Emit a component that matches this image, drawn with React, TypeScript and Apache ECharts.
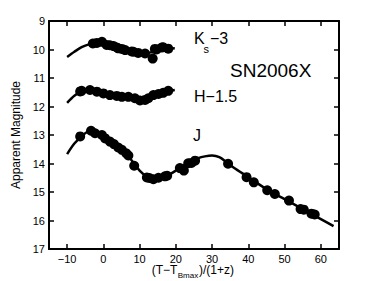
import React, { useEffect, useRef } from "react";
import * as echarts from "echarts";

const xTicks = [-10, 0, 10, 20, 30, 40, 50, 60];

const ksPoints: number[][] = [
  [-2.9, 9.79], [-1.8, 9.77], [-0.4, 9.73], [0.9, 9.84], [1.8, 9.85], [2.8, 9.88],
  [3.7, 9.93], [4.1, 9.96], [5.1, 9.98], [6.0, 10.02], [7.8, 10.07], [8.3, 10.08],
  [9.6, 10.12], [11.5, 10.14], [13.6, 10.32], [14.2, 9.98], [14.7, 10.0],
  [16.1, 9.93], [16.5, 9.92], [17.9, 9.97],
];
const ksCurve: number[][] = [
  [-10, 10.26], [-8, 10.08], [-6, 9.92], [-4, 9.82], [-2, 9.78], [0, 9.8], [2, 9.86],
  [4, 9.94], [6, 10.0], [8, 10.06], [10, 10.1], [12, 10.12], [14, 10.08], [16, 10.01],
  [18, 9.97], [19.7, 9.96],
];

const hPoints: number[][] = [
  [-6.4, 11.47], [-6.0, 11.45], [-3.7, 11.42], [-1.8, 11.48], [0, 11.54], [1.8, 11.6],
  [3.7, 11.63], [5.1, 11.66], [6.9, 11.66], [8.7, 11.71], [10.1, 11.79], [11.5, 11.77],
  [12.4, 11.71], [13.8, 11.6], [15.2, 11.56], [16.5, 11.52], [17.9, 11.45],
];
const hCurve: number[][] = [
  [-10, 11.87], [-8, 11.62], [-6, 11.47], [-4, 11.43], [-2, 11.47], [0, 11.53], [2, 11.59],
  [4, 11.63], [6, 11.66], [8, 11.7], [10, 11.74], [12, 11.72], [14, 11.62], [16, 11.53],
  [18, 11.46], [19.7, 11.42],
];

const jPoints: number[][] = [
  [-6.4, 13.05], [-3.4, 12.85], [-2.3, 12.94], [-0.4, 13.0], [0.5, 13.12], [1.8, 13.23],
  [2.9, 13.32], [4.1, 13.44], [5.1, 13.52], [6.3, 13.64], [6.9, 13.72], [8.5, 14.08],
  [12.0, 14.49], [12.7, 14.51], [13.8, 14.55], [15.2, 14.5], [17.0, 14.45], [17.6, 14.43],
  [21.1, 14.16], [22.2, 14.25], [23.4, 13.99], [24.3, 13.98], [25.3, 13.9], [34.4, 14.01],
  [39.5, 14.48], [41.5, 14.66], [45.2, 14.94], [47.3, 15.07], [51.2, 15.3], [54.4, 15.6],
  [55.3, 15.62], [57.4, 15.76], [58.3, 15.79],
];
const jCurve: number[][] = [
  [-10, 13.67], [-8, 13.3], [-6, 13.05], [-4, 12.88], [-2, 12.9], [0, 13.05], [2, 13.24],
  [4, 13.44], [6, 13.63], [8, 13.92], [10, 14.25], [12, 14.46], [14, 14.53], [16, 14.48],
  [18, 14.4], [20, 14.25], [22, 14.08], [24, 13.93], [26, 13.82], [28, 13.75], [30, 13.72],
  [32, 13.78], [34, 13.96], [36, 14.15], [40, 14.48], [45, 14.9], [50, 15.25], [55, 15.6],
  [60, 15.95], [63.5, 16.2],
];

const FONT = "Liberation Sans, Arial, Helvetica, sans-serif";

export default function App() {
  const ref = useRef<HTMLDivElement>(null);
  useEffect(() => {
    document.body.style.margin = "0";
    if (!ref.current) return;
    const chart = echarts.init(ref.current, null, { renderer: "svg" });
    const axisLine = { show: true, onZero: false, lineStyle: { color: "#000", width: 2 } };
    const tick = { show: true, inside: true, length: 5, lineStyle: { color: "#000", width: 1.5 } };
    const lineSeries = (data: number[][]) => ({
      type: "line", data, showSymbol: false, smooth: 0.3, symbol: "none",
      lineStyle: { color: "#000", width: 2.5 }, silent: true,
    });
    const scatter = (data: number[][]) => ({
      type: "scatter", data, symbolSize: 10, itemStyle: { color: "#000", opacity: 1 }, silent: true,
    });
    const txt = (text: string, x: number, y: number, size: number, align = "left") => ({
      type: "text", x, y,
      style: { text, fontSize: size, fontFamily: FONT, fill: "#000", textAlign: align, textVerticalAlign: "middle" },
    });
    chart.setOption({
      animation: false,
      backgroundColor: "#fff",
      textStyle: { fontFamily: FONT },
      grid: { left: 49, top: 21, right: 35, bottom: 32 },
      xAxis: [
        {
          type: "value", position: "bottom", min: -15, max: 65,
          axisLine, axisTick: { ...tick, customValues: xTicks },
          axisLabel: {
            customValues: xTicks, color: "#000", fontSize: 11, margin: 4, fontFamily: FONT,
            formatter: (v: number) => String(v).replace("-", "\u2212"),
          },
          splitLine: { show: false },
        },
        {
          type: "value", position: "top", min: -15, max: 65,
          axisLine, axisTick: { ...tick, customValues: xTicks },
          axisLabel: { show: false }, splitLine: { show: false },
        },
      ],
      yAxis: [
        {
          type: "value", position: "left", min: 9, max: 17, interval: 1, inverse: true,
          axisLine, axisTick: tick,
          axisLabel: { color: "#000", fontSize: 11, margin: 4, fontFamily: FONT },
          splitLine: { show: false },
          name: "Apparent Magnitude", nameLocation: "middle", nameGap: 25,
          nameTextStyle: { color: "#000", fontSize: 12, fontFamily: FONT },
        },
        {
          type: "value", position: "right", min: 9, max: 17, interval: 1, inverse: true,
          axisLine, axisTick: tick, axisLabel: { show: false }, splitLine: { show: false },
        },
      ],
      series: [
        lineSeries(ksCurve), scatter(ksPoints),
        lineSeries(hCurve), scatter(hPoints),
        lineSeries(jCurve), scatter(jPoints),
      ],
      graphic: [
        txt("K", 194, 38, 16),
        txt("s", 203.5, 48.5, 11),
        txt("\u22123", 210, 38, 16),
        txt("SN2006X", 230, 70, 19),
        txt("H\u22121.5", 194, 96, 16),
        txt("J", 193, 135, 16),
        txt("(T\u2212T", 151.7, 270, 12),
        txt("Bmax", 177.7, 275, 8),
        txt(")/(1+z)", 199, 270, 12),
      ],
    });
    return () => chart.dispose();
  }, []);
  return <div ref={ref} style={{ width: 374, height: 281, position: "absolute", left: 0, top: 0 }} />;
}
